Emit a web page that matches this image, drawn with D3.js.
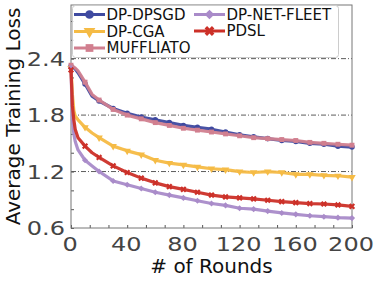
<!DOCTYPE html>
<html lang="en">
<head>
<meta charset="UTF-8">
<title>Average Training Loss</title>
<script src="https://d3js.org/d3.v7.min.js"></script>
<style>
  body { margin: 0; background: #fff; }
  svg text { font-family: "DejaVu Sans", sans-serif; }
</style>
</head>
<body>
<div id="chart"></div>
<script>
    // data
    var rounds = [0, 1, 2, 3, 5, 10, 15, 20, 30, 40, 50, 60, 70, 80, 90, 100, 110, 120, 130, 140, 150, 160, 170, 180, 190, 200]
    var dpDpsgd = [2.32, 2.31, 2.30, 2.29, 2.25, 2.13, 2.00, 1.95, 1.87, 1.82, 1.78, 1.75, 1.72, 1.69, 1.67, 1.65, 1.62, 1.59, 1.57, 1.55, 1.53, 1.52, 1.50, 1.49, 1.47, 1.46]
    var dpCga = [2.30, 2.02, 1.85, 1.79, 1.75, 1.67, 1.61, 1.56, 1.47, 1.42, 1.38, 1.32, 1.29, 1.27, 1.25, 1.23, 1.22, 1.20, 1.19, 1.20, 1.19, 1.17, 1.17, 1.16, 1.155, 1.14]
    var muffliato = [2.33, 2.32, 2.31, 2.30, 2.27, 2.15, 2.02, 1.96, 1.86, 1.80, 1.76, 1.72, 1.69, 1.66, 1.64, 1.62, 1.60, 1.58, 1.56, 1.55, 1.54, 1.53, 1.51, 1.50, 1.49, 1.48]
    var dpNetFleet = [2.30, 1.75, 1.60, 1.52, 1.43, 1.32, 1.26, 1.20, 1.10, 1.06, 1.02, 0.98, 0.95, 0.92, 0.89, 0.86, 0.84, 0.81, 0.80, 0.78, 0.76, 0.745, 0.73, 0.72, 0.71, 0.705]
    var pdsl = [2.28, 1.90, 1.75, 1.65, 1.56, 1.47, 1.40, 1.35, 1.26, 1.19, 1.13, 1.08, 1.04, 1.01, 0.98, 0.95, 0.93, 0.92, 0.91, 0.895, 0.88, 0.87, 0.86, 0.855, 0.845, 0.83]
    var xTicks = [0, 40, 80, 120, 160, 200]
    var yTicks = [0.6, 1.2, 1.8, 2.4]
    var gridValues = [1.2, 1.8, 2.4]

    var series = [
      { name: "DP-DPSGD", values: dpDpsgd, color: "#3f4aa0", symbol: d3.symbolCircle, rot: 0 },
      { name: "DP-CGA", values: dpCga, color: "#f5bb45", symbol: d3.symbolTriangle, rot: 180 },
      { name: "MUFFLIATO", values: muffliato, color: "#d17f8f", symbol: d3.symbolSquare, rot: 0 },
      { name: "DP-NET-FLEET", values: dpNetFleet, color: "#a98bc9", symbol: d3.symbolDiamond2, rot: 0 },
      { name: "PDSL", values: pdsl, color: "#cc3028", symbol: d3.symbolCross, rot: 45 }
    ]

    var width = 379
    var height = 283
    var margin = { top: 5, right: 27, bottom: 55, left: 71 }

    var svg = d3.select("#chart")
      .append("svg")
        .attr("width", width)
        .attr("height", height)

    var x = d3.scaleLinear()
      .domain([0, 200])
      .range([margin.left, width - margin.right])

    var y = d3.scaleLinear()
      .domain([0.6, 2.97])
      .range([height - margin.bottom, margin.top])

    // dash-dot grid lines
    svg.append("g")
      .selectAll("line")
      .data(gridValues)
      .enter()
      .append("line")
        .attr("x1", x(0))
        .attr("x2", x(200))
        .attr("y1", function(d){ return y(d) })
        .attr("y2", function(d){ return y(d) })
        .attr("stroke", "#333")
        .attr("stroke-width", 0.8)
        .attr("stroke-dasharray", "5,2,1,2")

    // inward ticks, two minor ticks between each pair of labels
    var xAxis = d3.axisBottom(x)
      .tickValues(d3.range(0, 200.01, 40 / 3))
      .tickSizeInner(-3)
      .tickSizeOuter(0)
      .tickFormat("")
    svg.append("g")
      .attr("transform", "translate(0," + y(0.6) + ")")
      .call(xAxis)
      .call(function(g){ g.select(".domain").remove() })
      .selectAll("line").attr("stroke", "#555")

    var yAxis = d3.axisLeft(y)
      .tickValues(d3.range(0.6, 2.97, 0.2))
      .tickSizeInner(-3)
      .tickSizeOuter(0)
      .tickFormat("")
    svg.append("g")
      .attr("transform", "translate(" + x(0) + ",0)")
      .call(yAxis)
      .call(function(g){ g.select(".domain").remove() })
      .selectAll("line").attr("stroke", "#555")

    // frame
    svg.append("rect")
      .attr("x", x(0))
      .attr("y", y(2.97))
      .attr("width", x(200) - x(0))
      .attr("height", y(0.6) - y(2.97))
      .attr("fill", "none")
      .attr("stroke", "#777")
      .attr("stroke-width", 1)

    // tick labels (stretched a bit wider like the figure)
    svg.append("g")
      .selectAll("text")
      .data(yTicks)
      .enter()
      .append("text")
        .attr("transform", function(d){ return "translate(65," + y(d) + ") scale(1.2,1)" })
        .attr("text-anchor", "end")
        .attr("dy", "0.36em")
        .attr("font-size", 20)
        .attr("fill", "#444")
        .text(function(d){ return d3.format(".1f")(d) })

    svg.append("g")
      .selectAll("text")
      .data(xTicks)
      .enter()
      .append("text")
        .attr("transform", function(d){ return "translate(" + (x(d) - 1) + ",250.5) scale(1.2,1)" })
        .attr("text-anchor", "middle")
        .attr("font-size", 20)
        .attr("fill", "#444")
        .text(function(d){ return d })

    // axis titles
    svg.append("text")
      .attr("x", (x(0) + x(200)) / 2)
      .attr("y", 273)
      .attr("text-anchor", "middle")
      .attr("font-size", 20)
      .attr("fill", "#111")
      .text("# of Rounds")

    svg.append("text")
      .attr("transform", "translate(20," + ((y(0.6) + y(2.97)) / 2) + ") rotate(-90)")
      .attr("text-anchor", "middle")
      .attr("font-size", 20)
      .attr("fill", "#111")
      .text("Average Training Loss")

    // lines + markers every 10 rounds
    var line = d3.line()
      .x(function(d){ return x(d[0]) })
      .y(function(d){ return y(d[1]) })

    series.forEach(function(s){
      var pts = rounds.map(function(r, i){ return [r, s.values[i]] })
      var g = svg.append("g")
      g.append("path")
        .attr("d", line(pts))
        .attr("fill", "none")
        .attr("stroke", s.color)
        .attr("stroke-width", 3.2)
        .attr("stroke-linejoin", "round")
        .attr("opacity", 0.95)
      g.selectAll("path.mark")
        .data(pts.filter(function(p){ return p[0] % 10 === 0 }))
        .enter()
        .append("path")
          .attr("class", "mark")
          .attr("d", d3.symbol().type(s.symbol).size(24))
          .attr("transform", function(p){ return "translate(" + x(p[0]) + "," + y(p[1]) + ") rotate(" + s.rot + ")" })
          .attr("fill", s.color)
    })

    // legend
    var legend = svg.append("g")
    legend.append("rect")
      .attr("x", 72.5)
      .attr("y", 5.5)
      .attr("width", 266)
      .attr("height", 52)
      .attr("rx", 3)
      .attr("fill", "#fff")
      .attr("fill-opacity", 0.85)
      .attr("stroke", "#ccc")
      .attr("stroke-width", 1)

    var legendPos = [[74, 14.5], [74, 31.5], [74, 48], [194, 14.5], [194, 31]]
    series.forEach(function(s, i){
      var lx = legendPos[i][0], ly = legendPos[i][1]
      legend.append("line")
        .attr("x1", lx).attr("x2", lx + 31)
        .attr("y1", ly).attr("y2", ly)
        .attr("stroke", s.color)
        .attr("stroke-width", 3)
      legend.append("path")
        .attr("d", d3.symbol().type(s.symbol).size(60))
        .attr("transform", "translate(" + (lx + 15.5) + "," + ly + ") rotate(" + s.rot + ")")
        .attr("fill", s.color)
      legend.append("text")
        .attr("x", lx + 32.5)
        .attr("y", ly)
        .attr("dy", "0.36em")
        .attr("font-size", 15)
        .attr("fill", "#111")
        .text(s.name)
    })
</script>
</body>
</html>
